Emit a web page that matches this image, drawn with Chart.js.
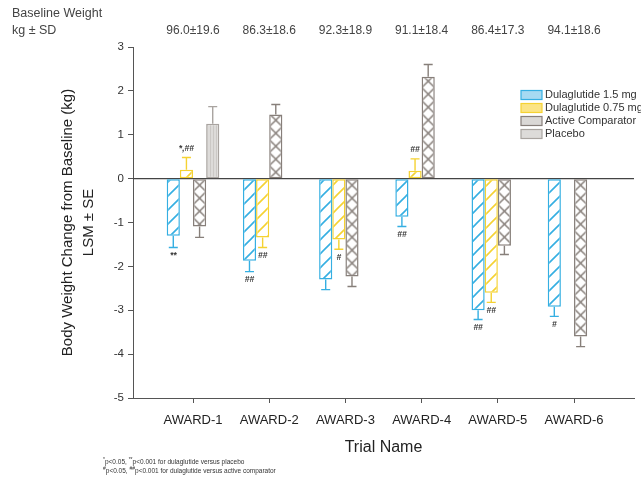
<!DOCTYPE html>
<html>
<head>
<meta charset="utf-8">
<script src="https://cdn.jsdelivr.net/npm/chart.js@4"></script>
<style>
html, body { margin: 0; padding: 0; background: #fff; }
#wrap { position: relative; width: 641px; height: 495px; }
#foot { position: absolute; left: 103px; top: 457px; font: 6.5px Arial, "Liberation Sans", sans-serif; color: #333; line-height: 9px; white-space: nowrap; }
#foot sup { font-size: 5px; vertical-align: top; line-height: 0; position: relative; top: 2px; }
</style>
</head>
<body>
<div id="wrap">
  <canvas id="chart" width="641" height="495"></canvas>
  <div id="foot"><sup>*</sup>p&lt;0.05, <sup>**</sup>p&lt;0.001 for dulaglutide versus placebo<br><sup>#</sup>p&lt;0.05, <sup>##</sup>p&lt;0.001 for dulaglutide versus active comparator</div>
</div>
<script>
/*_____________________DATA____________________*/

const categories = ['AWARD-1', 'AWARD-2', 'AWARD-3', 'AWARD-4', 'AWARD-5', 'AWARD-6'];
const baseline = ['96.0±19.6', '86.3±18.6', '92.3±18.9', '91.1±18.4', '86.4±17.3', '94.1±18.6'];

const dula15 = [-1.30, -1.87, -2.30, -0.87, -3.00, -2.92];
const dula15Se = [0.27, 0.25, 0.23, 0.22, 0.21, 0.22];
const dula15Sig = ['**', '##', '', '##', '##', '#'];

const dula075 = [0.20, -1.34, -1.39, 0.18, -2.60, null];
const dula075Se = [0.28, 0.23, 0.22, 0.27, 0.22, null];
const dula075Sig = ['*,##', '##', '#', '##', '##', ''];

const active = [-1.09, 1.46, -2.23, 2.32, -1.53, -3.60];
const activeSe = [0.25, 0.23, 0.23, 0.28, 0.20, 0.23];

const placebo = [1.25, null, null, null, null, null];
const placeboSe = [0.39, null, null, null, null, null];

const yTicks = [3, 2, 1, 0, -1, -2, -3, -4, -5];

/*_____________________PATTERNS____________________*/

const FONT = 'Arial, "Liberation Sans", sans-serif';
const blue = '#35afe2';
const yellow = '#f5d232';
const grey = '#877f7a';
const greyLight = '#a9a4a0';

const CAT_PCT = 0.69;

function hatch(color) {
  const c = document.createElement('canvas');
  c.width = 14; c.height = 14;
  const g = c.getContext('2d');
  g.fillStyle = '#fff';
  g.fillRect(0, 0, 14, 14);
  g.strokeStyle = color;
  g.lineWidth = 1.6;
  g.beginPath();
  g.moveTo(0, 14); g.lineTo(14, 0);
  g.moveTo(-2, 2); g.lineTo(2, -2);
  g.moveTo(12, 16); g.lineTo(16, 12);
  g.stroke();
  return g.createPattern(c, 'repeat');
}

// diamond lattice tile, later stretched so one diamond spans the bar width
const crossTile = document.createElement('canvas');
crossTile.width = 13; crossTile.height = 13;
(function () {
  const g = crossTile.getContext('2d');
  g.fillStyle = '#fff';
  g.fillRect(0, 0, 13, 13);
  g.strokeStyle = grey;
  g.lineWidth = 1.5;
  g.beginPath();
  g.moveTo(0, 0); g.lineTo(13, 13);
  g.moveTo(13, 0); g.lineTo(0, 13);
  g.stroke();
})();

function cross(ctx) {
  const pat = ctx.chart.ctx.createPattern(crossTile, 'repeat');
  const xs = ctx.chart.scales.x;
  const ys = ctx.chart.scales.y;
  if (ctx.type === 'data' && xs && ys && xs.width) {
    // active comparator is the 3rd of 4 bars, so its left edge sits on the group centre
    const bw = (xs.getPixelForValue(2) - xs.getPixelForValue(1)) * CAT_PCT / 4;
    const left = xs.getPixelForValue(ctx.dataIndex + 1);
    pat.setTransform(new DOMMatrix().translate(left, ys.getPixelForValue(0)).scale(bw / 13, 1));
  }
  return pat;
}

function stripes() {
  const c = document.createElement('canvas');
  c.width = 3; c.height = 3;
  const g = c.getContext('2d');
  g.fillStyle = '#dddbd9';
  g.fillRect(0, 0, 3, 3);
  g.fillStyle = '#cbc8c5';
  g.fillRect(0, 0, 1, 3);
  return g.createPattern(c, 'repeat');
}

/*_____________________PLUGINS____________________*/

const seArrays = [dula15Se, dula075Se, activeSe, placeboSe];
const sigArrays = [dula15Sig, dula075Sig, null, null];
const barColors = [blue, yellow, grey, greyLight];

const errorBars = {
  id: 'errorBars',
  afterDatasetsDraw(chart) {
    const ctx = chart.ctx;
    const y = chart.scales.y;
    ctx.save();
    chart.data.datasets.forEach((ds, di) => {
      const meta = chart.getDatasetMeta(di);
      meta.data.forEach((bar, i) => {
        const v = ds.data[i];
        const se = seArrays[di][i];
        if (v == null || se == null) return;
        const dir = v >= 0 ? 1 : -1;
        const end = y.getPixelForValue(v + dir * se);
        ctx.strokeStyle = barColors[di];
        ctx.lineWidth = 1.4;
        ctx.beginPath();
        ctx.moveTo(bar.x, bar.y);
        ctx.lineTo(bar.x, end);
        ctx.moveTo(bar.x - 4.5, end);
        ctx.lineTo(bar.x + 4.5, end);
        ctx.stroke();
        const sig = sigArrays[di] && sigArrays[di][i];
        if (sig) {
          ctx.fillStyle = '#333';
          ctx.font = 'italic bold 8.5px ' + FONT;
          ctx.textAlign = 'center';
          ctx.textBaseline = 'middle';
          ctx.fillText(sig, bar.x, end + (dir < 0 ? 8 : -9));
        }
      });
    });
    ctx.restore();
  }
};

const zeroLine = {
  id: 'zeroLine',
  beforeDatasetsDraw(chart) {
    const ctx = chart.ctx;
    const a = chart.chartArea;
    const y0 = chart.scales.y.getPixelForValue(0);
    ctx.save();
    ctx.strokeStyle = '#444';
    ctx.lineWidth = 1.3;
    ctx.beginPath();
    ctx.moveTo(a.left, y0);
    ctx.lineTo(a.right, y0);
    ctx.stroke();
    ctx.restore();
  }
};

const legendItems = [
  { text: 'Dulaglutide 1.5 mg', fill: '#a6daf2', border: blue },
  { text: 'Dulaglutide 0.75 mg', fill: '#fbe485', border: yellow },
  { text: 'Active Comparator', fill: '#dad8d6', border: grey },
  { text: 'Placebo', fill: '#dddbd9', border: greyLight }
];

const boxLegend = {
  id: 'boxLegend',
  afterDraw(chart) {
    const ctx = chart.ctx;
    ctx.save();
    ctx.font = '11px ' + FONT;
    ctx.textBaseline = 'middle';
    ctx.textAlign = 'left';
    legendItems.forEach((it, i) => {
      const cy = 95 + i * 13;
      ctx.fillStyle = it.fill;
      ctx.fillRect(521, cy - 4.5, 21, 9);
      ctx.strokeStyle = it.border;
      ctx.lineWidth = 1.2;
      ctx.strokeRect(521, cy - 4.5, 21, 9);
      ctx.fillStyle = '#333';
      ctx.fillText(it.text, 545, cy);
    });
    ctx.restore();
  }
};

const header = {
  id: 'header',
  afterDraw(chart) {
    const ctx = chart.ctx;
    const x = chart.scales.x;
    ctx.save();
    ctx.fillStyle = '#444';
    ctx.textBaseline = 'middle';
    ctx.font = '12.5px ' + FONT;
    ctx.textAlign = 'left';
    ctx.fillText('Baseline Weight', 12, 14);
    ctx.fillText('kg ± SD', 12, 31);
    ctx.font = '12px ' + FONT;
    ctx.textAlign = 'center';
    baseline.forEach((t, i) => {
      ctx.fillText(t, x.getPixelForValue(i + 1), 31);
    });
    ctx.restore();
  }
};

/*_____________________CHART____________________*/

const positions = categories.map((c, i) => i + 1);

new Chart(document.getElementById('chart'), {
  type: 'bar',
  data: {
    labels: positions,
    datasets: [
      { label: 'Dulaglutide 1.5 mg', data: dula15, backgroundColor: hatch(blue), borderColor: blue },
      { label: 'Dulaglutide 0.75 mg', data: dula075, backgroundColor: hatch(yellow), borderColor: yellow },
      { label: 'Active Comparator', data: active, backgroundColor: cross, borderColor: grey },
      { label: 'Placebo', data: placebo, backgroundColor: stripes(), borderColor: greyLight }
    ]
  },
  options: {
    responsive: false,
    animation: false,
    layout: { padding: { left: 0, top: 47, right: 7, bottom: 37 } },
    datasets: {
      bar: { categoryPercentage: CAT_PCT, barPercentage: 1.0, borderWidth: 1.5, borderSkipped: false }
    },
    plugins: {
      legend: { display: false },
      tooltip: { enabled: false }
    },
    scales: {
      x: {
        type: 'linear',
        offset: false,
        min: 0.2126,
        max: 6.787,
        afterBuildTicks: (s) => { s.ticks = positions.map(v => ({ value: v })); },
        afterFit: (s) => { s.height = 60; },
        ticks: {
          callback: (v) => categories[v - 1],
          color: '#222',
          font: { size: 13, family: FONT },
          padding: 10
        },
        grid: { offset: false, drawOnChartArea: false, tickLength: 5, color: '#555' },
        border: { color: '#555', width: 1 },
        title: {
          display: true,
          text: 'Trial Name',
          color: '#222',
          font: { size: 16, family: FONT },
          padding: { top: 0, bottom: 1 }
        }
      },
      y: {
        min: -5,
        max: 3,
        afterBuildTicks: (s) => { s.ticks = yTicks.map(v => ({ value: v })); },
        afterFit: (s) => { s.width = 133; },
        ticks: {
          color: '#333',
          font: { size: 11.5, family: FONT },
          padding: 4
        },
        grid: { drawOnChartArea: false, tickLength: 5, color: '#555' },
        border: { color: '#555', width: 1 },
        title: {
          display: true,
          text: ['Body Weight Change from Baseline (kg)', 'LSM ± SE'],
          color: '#222',
          font: { size: 15, family: FONT, lineHeight: 1.35 },
          padding: { top: 58, bottom: 0 }
        }
      }
    }
  },
  plugins: [zeroLine, errorBars, boxLegend, header]
});
</script>
</body>
</html>
